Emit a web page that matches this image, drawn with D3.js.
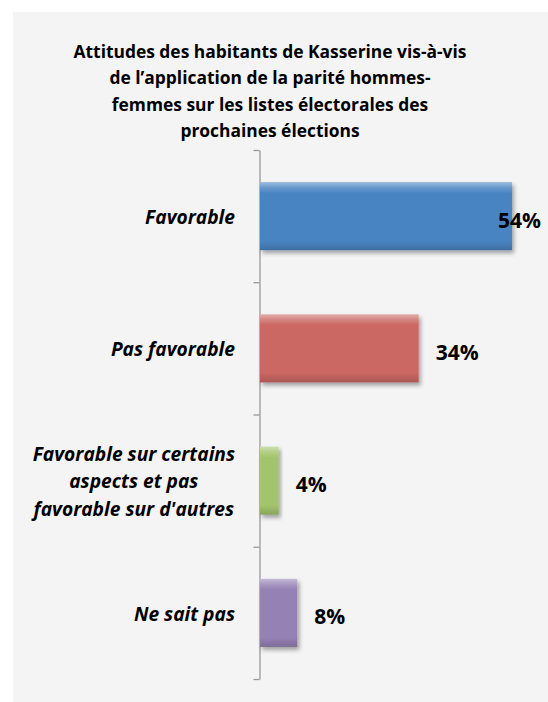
<!DOCTYPE html>
<meta charset="utf-8">
<head>
    <title>Parité hommes-femmes</title>
</head>
<style>
    body { margin: 0; background: white; }
    text { font-family: "Open Sans", Lato, sans-serif; fill: #000; }
</style>
<div id="chart"></div>
<script src="https://d3js.org/d3.v7.min.js"></script>
<script>

    var titleLines = ["Attitudes des habitants de Kasserine vis-à-vis",
                      "de l’application de la parité hommes-",
                      "femmes sur les listes électorales des",
                      "prochaines élections"];

    var categories = ["Favorable",
                      "Pas favorable",
                      "Favorable sur certains aspects et pas favorable sur d'autres",
                      "Ne sait pas"];

    // wrapped the way the original shows them
    var categoryLines = [["Favorable"],
                         ["Pas favorable"],
                         ["Favorable sur certains", "aspects et pas", "favorable sur d'autres"],
                         ["Ne sait pas"]];

    var values = [54, 34, 4, 8];

    var barColors = ["#4a84c2", "#cb6863", "#a3c46c", "#9681b5"];

    var W = 548, H = 702;

    var svg = d3.select("#chart")
      .append("svg")
        .attr("width", W)
        .attr("height", H);

    var defs = svg.append("defs");

    var shadow = defs.append("filter")
        .attr("id", "shadow")
        .attr("x", "-10%").attr("y", "-20%")
        .attr("width", "130%").attr("height", "160%");
    shadow.append("feDropShadow")
        .attr("dx", 2).attr("dy", 3)
        .attr("stdDeviation", 2.2)
        .attr("flood-color", "#000")
        .attr("flood-opacity", 0.35);

    barColors.forEach(function(c, i) {
        var g = defs.append("linearGradient")
            .attr("id", "bevel" + i)
            .attr("x1", 0).attr("y1", 0).attr("x2", 0).attr("y2", 1);
        var base = d3.color(c);
        g.append("stop").attr("offset", "0%").attr("stop-color", d3.interpolateRgb(c, "#fff")(0.45));
        g.append("stop").attr("offset", "9%").attr("stop-color", d3.interpolateRgb(c, "#fff")(0.15));
        g.append("stop").attr("offset", "16%").attr("stop-color", c);
        g.append("stop").attr("offset", "86%").attr("stop-color", c);
        g.append("stop").attr("offset", "100%").attr("stop-color", base.darker(0.5));
    });

    // panel
    svg.append("rect")
        .attr("x", 13).attr("y", 12)
        .attr("width", W - 13).attr("height", H - 12)
        .attr("fill", "#f4f4f4");

    // title
    svg.append("g")
      .selectAll("text")
      .data(titleLines)
      .join("text")
        .attr("x", 270)
        .attr("y", function(d, i) { return 58 + i * 26.3; })
        .attr("text-anchor", "middle")
        .style("font-size", "17.4px")
        .style("font-weight", "bold")
        .text(function(d) { return d; });

    var y = d3.scaleBand()
        .domain(categories)
        .range([150, 679])
        .paddingInner(0.485)
        .paddingOuter(0.2425);

    var yEdge = d3.scaleLinear()
        .domain([0, categories.length])
        .range([150, 679]);

    var x = d3.scaleLinear()
        .domain([0, 60])
        .range([260, 540]);

    // axis
    var axis = svg.append("g")
        .attr("transform", "translate(259.5,0)")
        .call(d3.axisLeft(yEdge)
            .tickValues(d3.range(categories.length + 1))
            .tickFormat("")
            .tickSize(6)
            .tickSizeOuter(0));
    axis.selectAll("line, path").attr("stroke", "#9a9a9a").attr("stroke-width", 1.3);

    // bars
    svg.append("g")
      .selectAll("rect")
      .data(values)
      .join("rect")
        .attr("x", x(0))
        .attr("y", function(d, i) { return y(categories[i]); })
        .attr("width", function(d) { return x(d) - x(0); })
        .attr("height", y.bandwidth())
        .attr("fill", function(d, i) { return "url(#bevel" + i + ")"; })
        .attr("filter", "url(#shadow)");

    // value labels
    svg.append("g")
      .selectAll("text")
      .data(values)
      .join("text")
        .attr("y", function(d, i) { return y(categories[i]) + y.bandwidth() / 2 + 4; })
        .attr("dy", "0.36em")
        .style("font-size", "21px")
        .style("font-weight", "bold")
        .text(function(d) { return d + "%"; })
        .attr("x", function(d) {
            var w = this.getComputedTextLength();
            return Math.min(x(d) + 17, 541 - w);
        });

    // category labels: block right-aligned, lines centred in the block
    var catG = svg.append("g")
      .selectAll("g")
      .data(categoryLines)
      .join("g");

    catG.each(function(lines, i) {
        var g = d3.select(this);
        var cy = y(categories[i]) + y.bandwidth() / 2 + 1;
        var texts = g.selectAll("text")
          .data(lines)
          .join("text")
            .attr("y", function(d, j) { return cy + (j - (lines.length - 1) / 2) * 27.5; })
            .attr("dy", "0.35em")
            .attr("text-anchor", "middle")
            .style("font-size", "19.2px")
            .style("font-weight", "bold")
            .style("font-style", "italic")
            .text(function(d) { return d; });
        var maxW = d3.max(texts.nodes(), function(n) { return n.getComputedTextLength(); });
        texts.attr("x", 235 - maxW / 2);
    });

</script>
